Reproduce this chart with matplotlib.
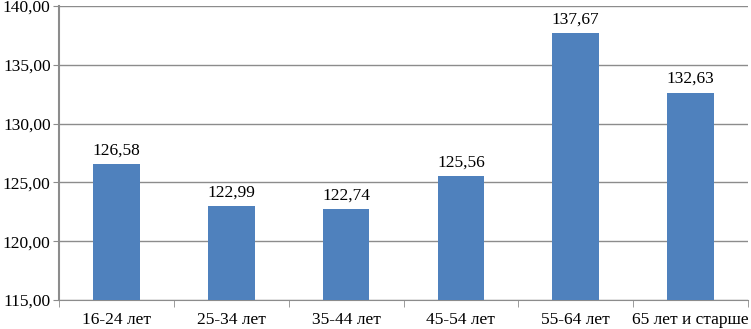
import matplotlib.pyplot as plt
import numpy as np

plt.rcParams['font.family'] = ['Liberation Serif', 'DejaVu Serif']

categories = ["16-24 лет", "25-34 лет", "35-44 лет", "45-54 лет", "55-64 лет", "65 лет и старше"]
values = [126.58, 122.99, 122.74, 125.56, 137.67, 132.63]

fig = plt.figure(figsize=(7.51, 3.29), dpi=100)
ax = fig.add_axes([59 / 751, 1 - 300 / 329, (748 - 59) / 751, (300 - 6) / 329])

x = np.arange(len(categories))
ax.bar(x, values, width=0.405, color="#4F81BD", zorder=3)
ax.set_ylim(115, 140)
ax.set_xlim(-0.5, len(categories) - 0.5)
ticks = np.arange(115, 141, 5)
ax.set_yticks(ticks)
ax.set_yticklabels([f"{v:.2f}".replace(".", ",") for v in ticks], fontsize=12.5)

ax.yaxis.grid(True, color="#8c8c8c", linewidth=1, zorder=0)
ax.set_xticks(x)
ax.set_xticklabels(categories, fontsize=12.5)
ax.tick_params(axis="x", length=0, pad=8.5)
ax.set_xticks(np.arange(-0.5, len(categories), 1), minor=True)
ax.tick_params(axis="x", which="minor", length=5, color="#8c8c8c", direction="out")
ax.tick_params(axis="y", length=4, color="#8c8c8c", pad=2)

for s in ["top", "right"]:
    ax.spines[s].set_visible(False)
ax.spines["left"].set_color("#8c8c8c")
ax.spines["left"].set_linewidth(1.5)
ax.spines["bottom"].set_color("#8c8c8c")

for xi, v in zip(x, values):
    ax.annotate(f"{v:.2f}".replace(".", ","), (xi, v), xytext=(0, 4), textcoords="offset points",
                ha="center", va="bottom", fontsize=12.5)

fig.savefig("out.png", dpi=100)
